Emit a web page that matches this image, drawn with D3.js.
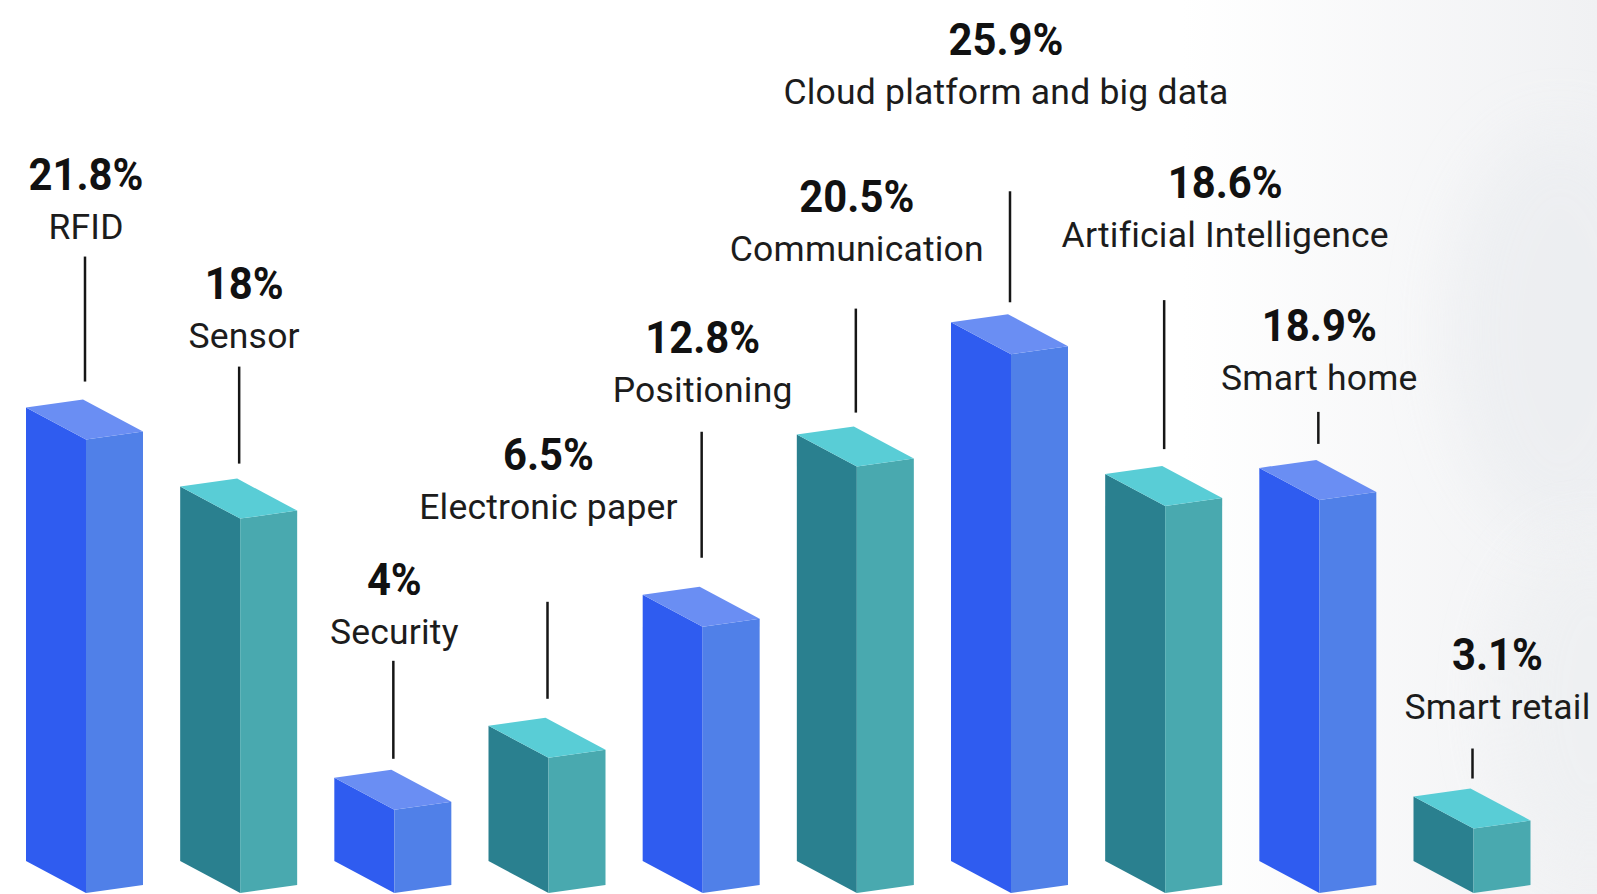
<!DOCTYPE html>
<html>
<head>
<meta charset="utf-8">
<script src="https://cdn.jsdelivr.net/npm/d3@7"></script>
<style>
  html, body { margin: 0; padding: 0; background: #fff; }
  svg { display: block; }
</style>
</head>
<body>
<script>
(function () {
  "use strict";

  // data
  var categories = ["RFID", "Sensor", "Security", "Electronic paper", "Positioning",
    "Communication", "Cloud platform and big data", "Artificial Intelligence",
    "Smart home", "Smart retail"];
  var values = [21.8, 18, 4, 6.5, 12.8, 20.5, 25.9, 18.6, 18.9, 3.1];
  var valueLabels = ["21.8%", "18%", "4%", "6.5%", "12.8%", "20.5%", "25.9%", "18.6%", "18.9%", "3.1%"];

  // leader layout (px): gap above bar, stem length, gap stem->label, label x shift
  var stemGap = [18, 15, 11, 19, 29, 14, 12, 17, 16, 10];
  var stemLen = [125, 97, 98, 97, 126, 104, 111, 149, 32, 30];
  var labelGap = [18, 19, 17, 83, 30, 48, 87, 53, 22, 30];
  var labelShift = [0, 4, 0, 0, 0, 0, -5, 60, 0, 24];

  var W = 1597, H = 894,
      base = 893,
      depthX = 60, depthY = 32,   // left face
      sideX = 57, sideY = 8;      // right face

  var palettes = [
    {left: "#2f5cf0", right: "#5080e8", top: "#6a8ef3"},
    {left: "#2a808f", right: "#49a9af", top: "#59cdd6"}
  ];

  var svg = d3.select("body").append("svg")
      .attr("width", W)
      .attr("height", H);

  var defs = svg.append("defs");
  var grad = defs.append("linearGradient")
      .attr("id", "bg")
      .attr("x1", 0).attr("x2", 1).attr("y1", 0).attr("y2", 0);
  grad.append("stop").attr("offset", "0.74").attr("stop-color", "#ffffff");
  grad.append("stop").attr("offset", "1").attr("stop-color", "#f0f1f3");
  defs.append("filter").attr("id", "blur")
      .attr("x", "-50%").attr("y", "-50%").attr("width", "200%").attr("height", "200%")
    .append("feGaussianBlur").attr("stdDeviation", 30);

  svg.append("rect").attr("width", W).attr("height", H).attr("fill", "url(#bg)");
  svg.append("ellipse")
      .attr("cx", 1560).attr("cy", 330).attr("rx", 110).attr("ry", 200)
      .attr("fill", "#eceef1").attr("filter", "url(#blur)").attr("opacity", 0.8);
  svg.append("ellipse")
      .attr("cx", 1590).attr("cy", 700).attr("rx", 90).attr("ry", 160)
      .attr("fill", "#eef0f2").attr("filter", "url(#blur)").attr("opacity", 0.7);

  var x = d3.scalePoint()
      .domain(categories)
      .range([86, 1473.5]);

  var h = d3.scaleLinear()
      .domain([0, 30])
      .range([0, 624]);

  var rows = categories.map(function (c, i) {
    var fx = x(c), fy = base - h(values[i]);
    return {name: c, value: values[i], label: valueLabels[i], i: i, fx: fx, fy: fy,
            pal: palettes[i % 2]};
  });

  function pts(arr) {
    return arr.map(function (p) { return p[0] + "," + p[1]; }).join(" ");
  }

  var bars = svg.selectAll(".bar")
      .data(rows)
      .enter()
    .append("g")
      .attr("class", "bar");

  bars.append("polygon")
      .attr("points", function (d) {
        return pts([[d.fx - depthX, d.fy - depthY], [d.fx, d.fy], [d.fx, base], [d.fx - depthX, base - depthY]]);
      })
      .attr("fill", function (d) { return d.pal.left; });

  bars.append("polygon")
      .attr("points", function (d) {
        return pts([[d.fx, d.fy], [d.fx + sideX, d.fy - sideY], [d.fx + sideX, base - sideY], [d.fx, base]]);
      })
      .attr("fill", function (d) { return d.pal.right; });

  bars.append("polygon")
      .attr("points", function (d) {
        return pts([[d.fx - depthX, d.fy - depthY], [d.fx - depthX + sideX, d.fy - depthY - sideY],
                    [d.fx + sideX, d.fy - sideY], [d.fx, d.fy]]);
      })
      .attr("fill", function (d) { return d.pal.top; });

  // leader lines and labels
  rows.forEach(function (d) {
    var backY = d.fy - depthY - sideY;
    var stemBottom = backY - stemGap[d.i];
    var stemTop = stemBottom - stemLen[d.i];
    var labelY = stemTop - labelGap[d.i];
    var lx = d.fx + labelShift[d.i];

    svg.append("line")
        .attr("x1", d.fx - 1).attr("x2", d.fx - 1)
        .attr("y1", stemTop).attr("y2", stemBottom)
        .attr("stroke", "#161616")
        .attr("stroke-width", 2.5);

    svg.append("text")
        .attr("x", lx)
        .attr("y", labelY)
        .attr("text-anchor", "middle")
        .style("font-family", "Roboto, 'Noto Sans', sans-serif")
        .style("font-size", "35.5px")
        .style("letter-spacing", "0.2px")
        .style("fill", "#1c1c1c")
        .text(d.name);

    svg.append("text")
        .attr("transform", "translate(" + lx + "," + (labelY - 49) + ") scale(0.95,1)")
        .attr("text-anchor", "middle")
        .style("font-family", "Roboto, 'Noto Sans', sans-serif")
        .style("font-weight", 700)
        .style("font-size", "44px")
        .style("fill", "#111")
        .text(d.label);
  });
}());
</script>
</body>
</html>
